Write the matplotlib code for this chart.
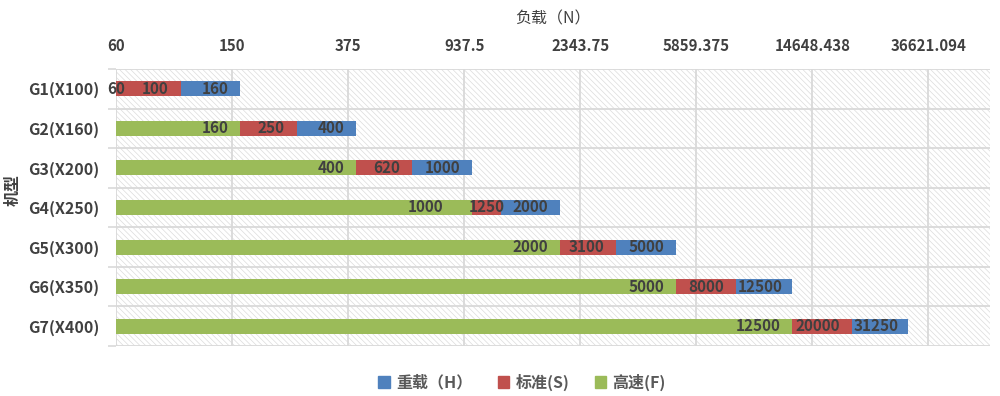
import matplotlib.pyplot as plt
from matplotlib.patches import Rectangle, Patch

plt.rcParams['font.family'] = ['Noto Sans CJK SC', 'DejaVu Sans']
plt.rcParams['hatch.linewidth'] = 0.5

# data: each value is where the segment ends on the load axis (N)
models = ['G1(X100)', 'G2(X160)', 'G3(X200)', 'G4(X250)', 'G5(X300)', 'G6(X350)', 'G7(X400)']
fast = [60, 160, 400, 1000, 2000, 5000, 12500]          # 高速(F)
standard = [100, 250, 620, 1250, 3100, 8000, 20000]     # 标准(S)
heavy = [160, 400, 1000, 2000, 5000, 12500, 31250]      # 重载（H）
tick_labels = ['60', '150', '375', '937.5', '2343.75', '5859.375', '14648.438', '36621.094']

green = '#9BBB59'
red = '#C0504D'
blue = '#4F81BD'
txt = '#404040'
axis_min = 60
base = 2.5

fig = plt.figure(figsize=(10, 3.96), dpi=100)
ax = fig.add_axes([0.116, 0.1263, 0.874, 0.6995])

# hatched plot area background
bg = Rectangle((0, 0), 1, 1, transform=ax.transAxes, facecolor='white',
               edgecolor='#dcdcdc', hatch='\\' * 6, linewidth=0, zorder=0)
ax.add_patch(bg)
ax.patch.set_visible(False)

ax.set_xscale('log')
ax.set_xlim(axis_min, axis_min * base ** 7.53)
ax.set_ylim(6.5, -0.5)

ypos = list(range(len(models)))
h = 0.38
segments = [(fast, [axis_min] * len(models), green),
            (standard, fast, red),
            (heavy, standard, blue)]
rows = {y: [] for y in ypos}
for ends, starts, col in segments:
    widths = [e - s for e, s in zip(ends, starts)]
    ax.barh(ypos, widths, left=starts, height=h, color=col, zorder=3)
    for y, e, s in zip(ypos, ends, starts):
        t = ax.annotate(str(e), (e, y), xytext=(-8.5, 0), textcoords='offset points',
                        ha='right', va='center', fontsize=11, fontweight='bold',
                        color=txt, zorder=4)
        rows[y].append((t, s, e))

# labels sit inside the segment end; squeeze them if tight, centre them
# when they don't fit at all (and push the previous one left)
fig.canvas.draw()
r = fig.canvas.get_renderer()
px2pt = 72 / fig.dpi
for y, items in rows.items():
    for i, (t, s, e) in enumerate(items):
        x0 = ax.transData.transform((s, y))[0]
        x1 = ax.transData.transform((e, y))[0]
        w = t.get_window_extent(r).width
        seg = x1 - x0
        if x1 - 12 - w >= x0 + 2:
            continue
        if w + 4 <= seg:
            t.set_position((-(x1 - (x0 + 2 + w)) * px2pt, 0))
            continue
        t.xy = ((s * e) ** 0.5, y)
        t.set_position((0, 0))
        t.set_ha('center')
        if i > 0 and seg > 0:
            prev = items[i - 1][0]
            gap = (x0 + x1) / 2 - w / 2 - prev.get_window_extent(r).x1
            if gap < 25:
                prev.set_position((-8.5 - (25 - gap) * px2pt, 0))

# axis ticks on top
ticks = [axis_min * base ** i for i in range(len(tick_labels))]
ax.set_xticks(ticks)
ax.set_xticklabels(tick_labels)
ax.xaxis.set_minor_locator(plt.NullLocator())
ax.xaxis.tick_top()
ax.xaxis.set_label_position('top')
ax.tick_params(axis='x', length=0, pad=11, labelsize=10.8, labelcolor=txt)
for lab in ax.get_xticklabels():
    lab.set_fontweight('bold')

ax.set_yticks(ypos)
ax.set_yticklabels(models)
ax.set_yticks([i + 0.5 for i in range(-1, len(models))], minor=True)
ax.tick_params(axis='y', which='major', length=0, pad=12, labelsize=11.5, labelcolor=txt)
ax.tick_params(axis='y', which='minor', length=6, color='#d9d9d9', width=1.2)
for lab in ax.get_yticklabels():
    lab.set_fontweight('bold')

ax.grid(True, axis='x', which='major', color='#d9d9d9', linewidth=1.3, zorder=1)
ax.grid(True, axis='y', which='minor', color='#d9d9d9', linewidth=1.3, zorder=1)
ax.set_axisbelow(True)
for sp in ax.spines.values():
    sp.set_visible(False)

ax.set_xlabel('负载（N）', fontsize=11.5, color=txt, labelpad=10)
fig.text(0.013, 0.52, '机型', rotation=90, ha='center', va='center',
         fontsize=11.5, color=txt, fontweight='bold')

handles = [Patch(color=blue), Patch(color=red), Patch(color=green)]
leg = fig.legend(handles, ['重载（H）', '标准(S)', '高速(F)'], loc='center',
                 bbox_to_anchor=(0.522, 0.035), ncol=3, frameon=False,
                 fontsize=11.5, labelcolor='#595959', handlelength=0.7,
                 handleheight=0.7, handletextpad=0.4, columnspacing=1.6)
for t in leg.get_texts():
    t.set_fontweight('bold')

fig.savefig('out.png', dpi=100)
